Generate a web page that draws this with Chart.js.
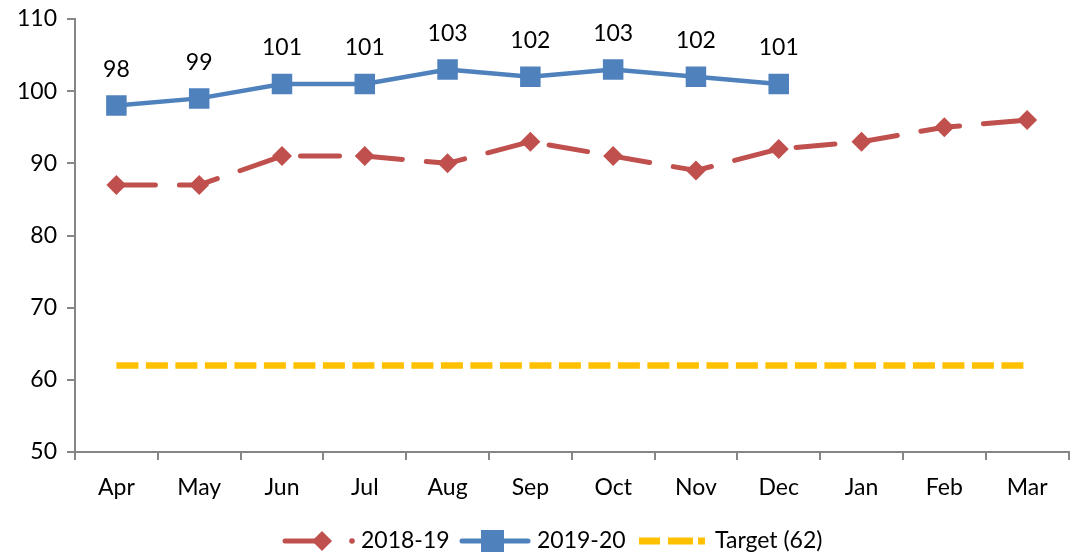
<!DOCTYPE html>
<html>
<head>
<meta charset="utf-8">
<script src="https://cdn.jsdelivr.net/npm/chart.js@4.4.0/dist/chart.umd.min.js"></script>
<style>
  html, body { margin: 0; padding: 0; background: #fff; overflow: hidden; }
  #wrap { width: 1083px; height: 559px; }
  canvas { display: block; }
</style>
</head>
<body>
<div id="wrap"><canvas id="chart" width="1083" height="559"></canvas></div>
<script>
// datos
const meses = ['Apr', 'May', 'Jun', 'Jul', 'Aug', 'Sep', 'Oct', 'Nov', 'Dec', 'Jan', 'Feb', 'Mar'];
const serie1819 = [87, 87, 91, 91, 90, 93, 91, 89, 92, 93, 95, 96];
const serie1920 = [98, 99, 101, 101, 103, 102, 103, 102, 101];
const objetivo = [62, 62, 62, 62, 62, 62, 62, 62, 62, 62, 62, 62];
const ticksY = [50, 60, 70, 80, 90, 100, 110];

const FUENTE = "Lato, 'Open Sans', sans-serif";
const TAM = 23;
const ROJO = '#C0504D';
const AZUL = '#4F81BD';
const AMARILLO = '#FFC000';
const GRIS = '#868686';

Chart.defaults.font.family = FUENTE;
Chart.defaults.font.size = TAM;
Chart.defaults.color = '#000';

// etiquetas de valor sobre la serie 2019-20
const etiquetasPlugin = {
  id: 'etiquetas',
  afterDatasetsDraw(chart) {
    const ctx = chart.ctx;
    const meta = chart.getDatasetMeta(1);
    ctx.save();
    ctx.font = TAM + 'px ' + FUENTE;
    ctx.fillStyle = '#000';
    ctx.textAlign = 'center';
    ctx.textBaseline = 'middle';
    meta.data.forEach((pt, i) => {
      ctx.fillText(String(serie1920[i]), pt.x, pt.y - 36);
    });
    ctx.restore();
  }
};

// leyenda dibujada a mano (linea + marcador)
const leyendaPlugin = {
  id: 'leyendaManual',
  afterDraw(chart) {
    const ctx = chart.ctx;
    const y = 541;
    ctx.save();
    ctx.font = TAM + 'px ' + FUENTE;
    ctx.textBaseline = 'middle';
    ctx.textAlign = 'left';

    // 2018-19
    ctx.strokeStyle = ROJO; ctx.fillStyle = ROJO; ctx.lineWidth = 5; ctx.lineCap = 'round';
    ctx.beginPath(); ctx.moveTo(285, y); ctx.lineTo(328, y); ctx.stroke();
    ctx.beginPath(); ctx.moveTo(322, y - 10); ctx.lineTo(332, y); ctx.lineTo(322, y + 10); ctx.lineTo(312, y); ctx.closePath(); ctx.fill();
    ctx.beginPath(); ctx.arc(352, y, 2.8, 0, Math.PI * 2); ctx.fill();
    ctx.fillStyle = '#000';
    ctx.fillText('2018-19', 361, y);

    // 2019-20
    ctx.strokeStyle = AZUL; ctx.fillStyle = AZUL; ctx.lineWidth = 5;
    ctx.beginPath(); ctx.moveTo(462, y); ctx.lineTo(528, y); ctx.stroke();
    ctx.fillRect(481, y - 11, 23, 22);
    ctx.fillStyle = '#000';
    ctx.fillText('2019-20', 537, y);

    // Target
    ctx.fillStyle = AMARILLO;
    [[639, 660], [668, 693], [698, 705]].forEach(([a, b]) => ctx.fillRect(a, y - 3.5, b - a, 7));
    ctx.fillStyle = '#000';
    ctx.fillText('Target (62)', 715, y);
    ctx.restore();
  }
};

new Chart(document.getElementById('chart'), {
  type: 'line',
  data: {
    labels: meses,
    datasets: [
      {
        label: '2018-19',
        data: serie1819,
        borderColor: ROJO,
        backgroundColor: ROJO,
        borderWidth: 5,
        borderDash: [39, 24],
        borderCapStyle: 'round',
        pointStyle: 'rectRot',
        pointRadius: 10,
        pointHoverRadius: 10,
        pointBorderWidth: 0,
        tension: 0
      },
      {
        label: '2019-20',
        data: serie1920,
        borderColor: AZUL,
        backgroundColor: AZUL,
        borderWidth: 4.5,
        pointStyle: 'rect',
        pointRadius: 14.5,
        pointHoverRadius: 14.5,
        pointBorderWidth: 0,
        tension: 0
      },
      {
        label: 'Target (62)',
        data: objetivo,
        borderColor: AMARILLO,
        borderWidth: 6.5,
        borderDash: [22, 7.5],
        pointRadius: 0,
        tension: 0
      }
    ]
  },
  options: {
    responsive: false,
    animation: false,
    layout: { padding: { top: 19, right: 0, bottom: 47, left: 0 } },
    plugins: {
      legend: { display: false },
      tooltip: { enabled: false }
    },
    scales: {
      x: {
        offset: true,
        border: { color: GRIS, width: 2 },
        grid: { offset: true, drawOnChartArea: false, drawTicks: true, tickLength: 8, color: GRIS, lineWidth: 2 },
        ticks: { padding: 14, font: { size: TAM }, color: '#000', maxRotation: 0 },
        afterFit(s) { s.height = 60; s.paddingLeft = 0; s.paddingRight = 0; }
      },
      y: {
        min: 50,
        max: 110,
        afterBuildTicks(s) { s.ticks = ticksY.map(v => ({ value: v })); },
        border: { color: GRIS, width: 2 },
        grid: { drawOnChartArea: false, drawTicks: true, tickLength: 8, color: GRIS, lineWidth: 2 },
        ticks: { padding: 10, font: { size: TAM }, color: '#000' },
        afterFit(s) { s.width = 75; s.paddingTop = 0; s.paddingBottom = 0; }
      }
    }
  },
  plugins: [etiquetasPlugin, leyendaPlugin]
});
</script>
</body>
</html>
